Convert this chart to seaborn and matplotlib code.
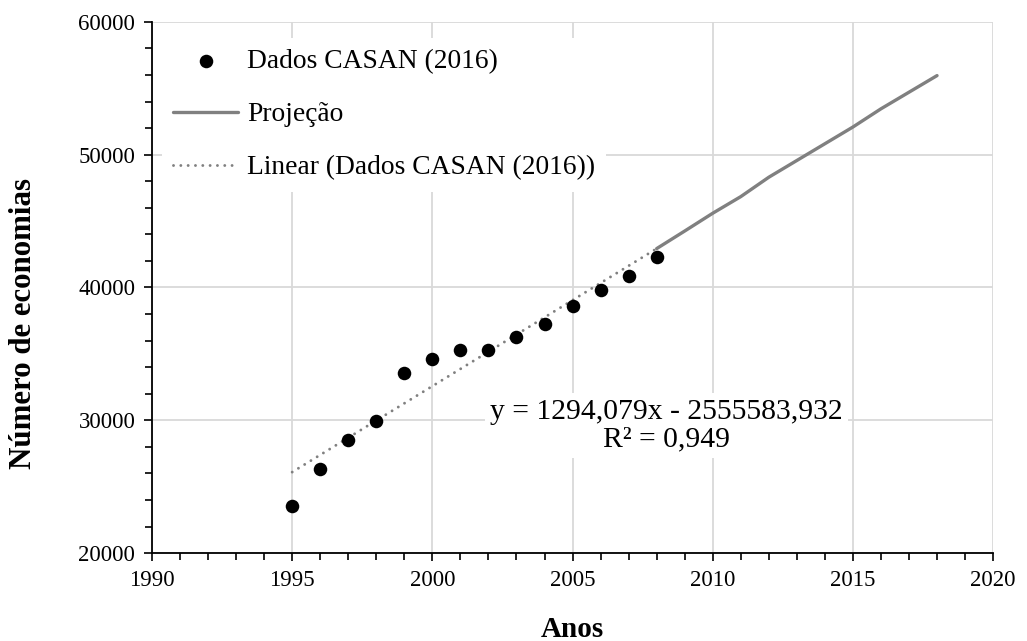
import numpy as np
import pandas as pd
import matplotlib
matplotlib.use("Agg")
import matplotlib.pyplot as plt
from matplotlib.ticker import MultipleLocator
import seaborn as sns

# Observed number of connections (CASAN, 2016)
anos_dados = [1995, 1996, 1997, 1998, 1999, 2000, 2001, 2002, 2003, 2004, 2005, 2006, 2007, 2008]
economias = [23570, 26300, 28545, 29950, 33595, 34600, 35300, 35300, 36270, 37250, 38640, 39800, 40870, 42300]

# Projected series
anos_proj = [2008, 2009, 2010, 2011, 2012, 2013, 2014, 2015, 2016, 2017, 2018]
economias_proj = [42927, 44250, 45590, 46840, 48300, 49560, 50820, 52080, 53450, 54700, 55950]

# Linear trend coefficients
coef_a = 1294.079
coef_b = -2555583.932
r2 = 0.949

anos_tend = [1995, 2008]
tend = [coef_a * x + coef_b for x in anos_tend]

sns.set_theme(style="white")
plt.rcParams["font.family"] = ["Liberation Serif", "DejaVu Serif"]

fig, ax = plt.subplots(figsize=(10.27, 6.41), dpi=100)
fig.subplots_adjust(left=0.148, right=0.967, bottom=0.137, top=0.966)

df_dados = pd.DataFrame({"ano": anos_dados, "econ": economias})
df_proj = pd.DataFrame({"ano": anos_proj, "econ": economias_proj})
df_tend = pd.DataFrame({"ano": anos_tend, "econ": tend})

cinza = "#808080"
sns.scatterplot(data=df_dados, x="ano", y="econ", ax=ax, color="black", s=95,
                edgecolor="black", linewidth=0, label="Dados CASAN (2016)", zorder=4)
sns.lineplot(data=df_proj, x="ano", y="econ", ax=ax, color=cinza, linewidth=2.4,
             label="Projeção", zorder=3)
sns.lineplot(data=df_tend, x="ano", y="econ", ax=ax, color=cinza, linewidth=2.1,
             linestyle=(0, (0.01, 2.5)), dash_capstyle="round",
             label="Linear (Dados CASAN (2016))", zorder=3)

ax.set_xlim(1990, 2020)
ax.set_ylim(20000, 60000)
ax.xaxis.set_major_locator(MultipleLocator(5))
ax.xaxis.set_minor_locator(MultipleLocator(1))
ax.yaxis.set_major_locator(MultipleLocator(10000))
ax.yaxis.set_minor_locator(MultipleLocator(2000))

ax.grid(True, which="major", color="#d9d9d9", linewidth=1.3, zorder=0)
ax.set_axisbelow(True)
for s in ["top", "right"]:
    ax.spines[s].set_visible(False)
for s in ["left", "bottom"]:
    ax.spines[s].set_color("black")
    ax.spines[s].set_linewidth(1.3)

ax.tick_params(axis="both", which="major", direction="out", length=6, width=1.2,
               color="black", labelsize=16.5, labelcolor="black", pad=6)
ax.tick_params(axis="both", which="minor", direction="out", length=5, width=1.2,
               color="black")
ax.tick_params(axis="x", which="both", bottom=True)
ax.tick_params(axis="y", which="both", left=True)

ax.set_xlabel("Anos", fontsize=21, fontweight="bold", color="black")
ax.set_ylabel("Número de economias", fontsize=22.2, fontweight="bold", color="black")
ax.xaxis.set_label_coords(0.5, -0.118)
ax.yaxis.set_label_coords(-0.135, 0.433)

leg = ax.legend(loc="upper left", bbox_to_anchor=(0.012, 0.97), borderaxespad=0,
                fontsize=19.8, frameon=True, facecolor="white", edgecolor="none",
                framealpha=1, handlelength=2.37, handletextpad=0.33, labelspacing=1.02,
                borderpad=0.4, fancybox=False, markerscale=1.0)
for t in leg.get_texts():
    t.set_color("black")

eq = (f"y = {coef_a:.3f}x - {abs(coef_b):.3f}\nR² = {r2:.3f}").replace(".", ",")
ax.text(2008.35, 29600, eq, ha="center", va="center", fontsize=21.3, color="black",
        linespacing=1.08, bbox=dict(facecolor="white", edgecolor="none", pad=4), zorder=5)

fig.savefig("out.png", dpi=100)
